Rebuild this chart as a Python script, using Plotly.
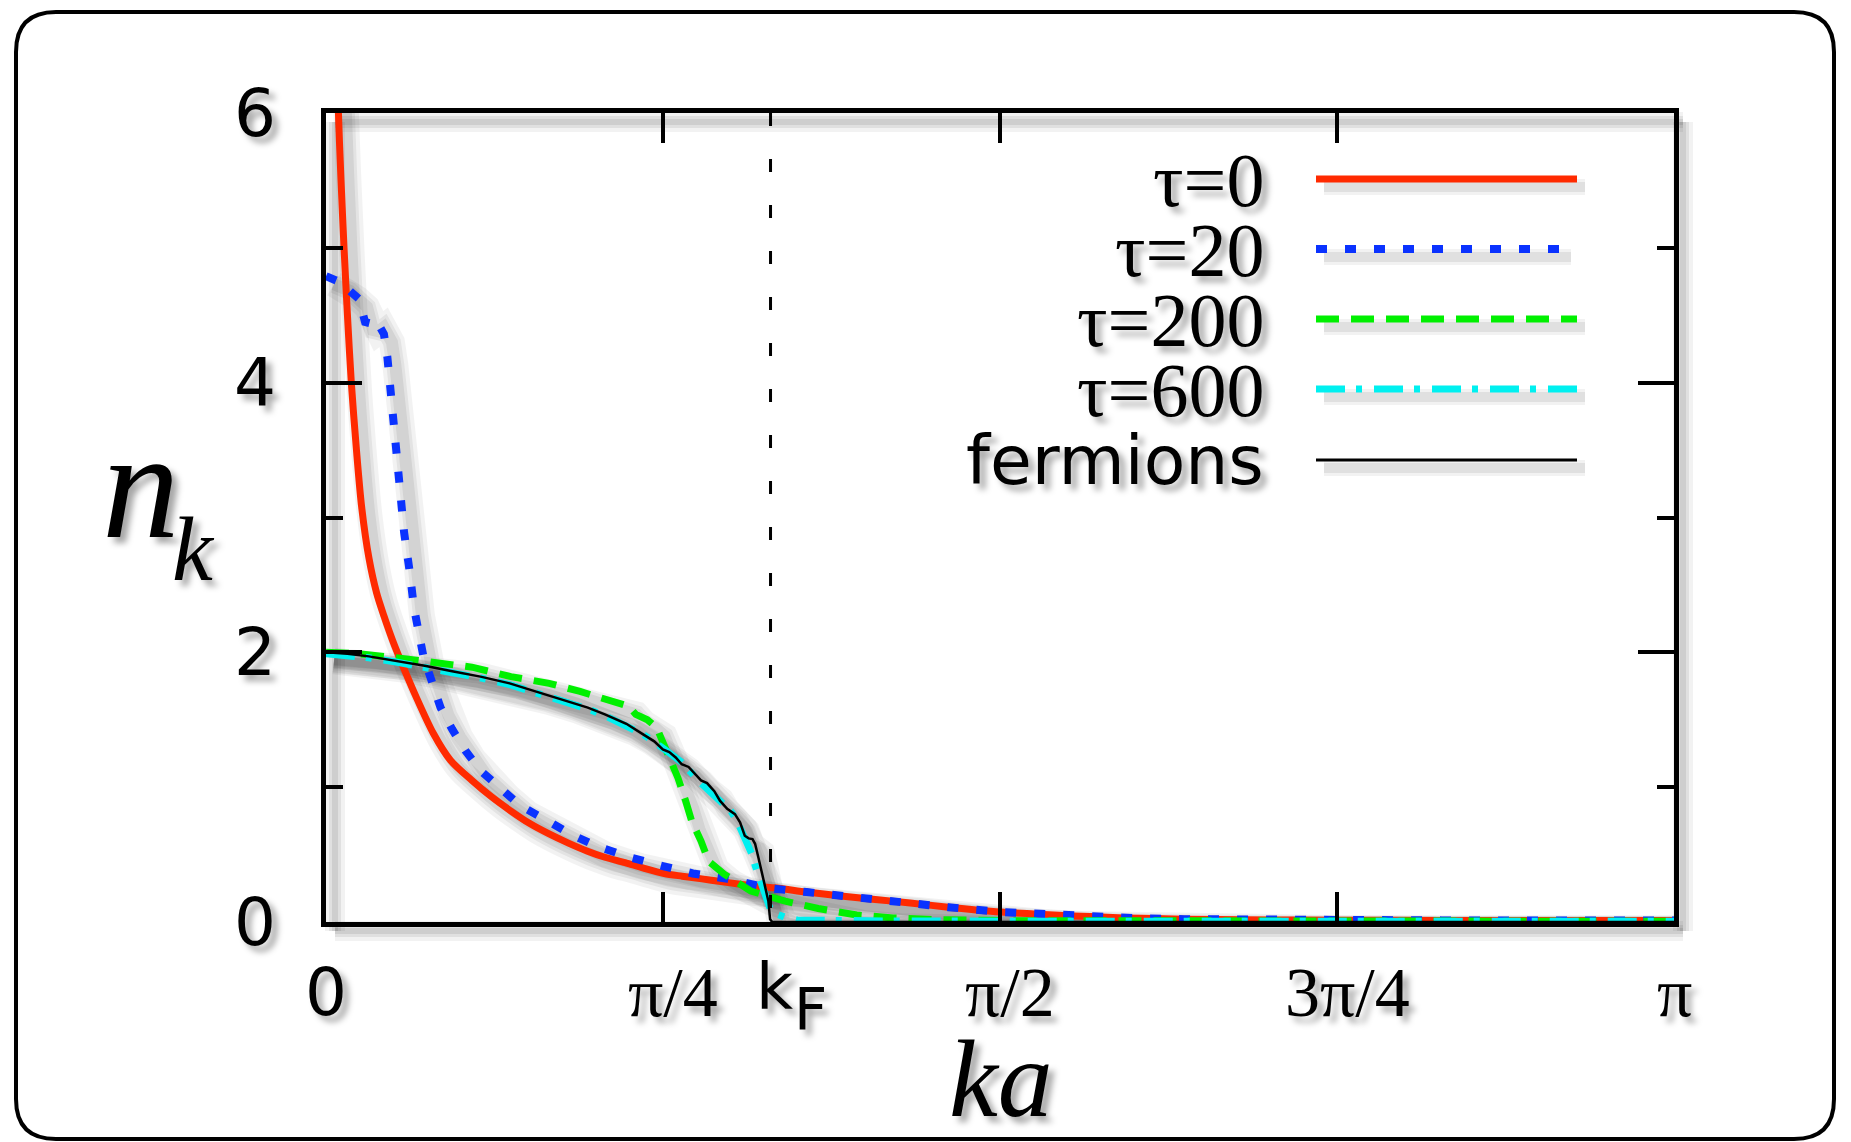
import numpy as np
import plotly.graph_objects as go

PI = np.pi
KF = 1.036  # Fermi wave vector (ka units)

# ---------------- data ----------------
ka_tau0 = [0.022, 0.029, 0.035, 0.042, 0.050, 0.059, 0.071, 0.083, 0.100, 0.118, 0.135, 0.155,
           0.179, 0.21, 0.25, 0.29, 0.34, 0.385, 0.431, 0.475, 0.52, 0.565, 0.608, 0.65,
           0.697, 0.74, 0.788, 0.83, 0.876, 0.92, 0.965, 1.00, 1.044, 1.12, 1.20, 1.28,
           1.356, 1.45, 1.573, 1.65, 1.743, 1.82, 1.899, 2.0, 2.132, 2.356, 2.6, 2.9, 3.1416]
n_tau0 = [7.0, 6.0, 5.5, 5.0, 4.5, 4.0, 3.5, 3.08, 2.70, 2.44, 2.27, 2.09,
          1.90, 1.67, 1.40, 1.20, 1.05, 0.93, 0.823, 0.73, 0.653, 0.585, 0.527, 0.48,
          0.44, 0.40, 0.36, 0.34, 0.32, 0.30, 0.28, 0.265, 0.254, 0.222, 0.193, 0.167,
          0.143, 0.11, 0.074, 0.06, 0.045, 0.035, 0.027, 0.021, 0.016, 0.013, 0.012, 0.011, 0.011]

ka_tau20 = [0.0, 0.009, 0.020, 0.037, 0.056, 0.077, 0.091, 0.104, 0.116, 0.135, 0.143, 0.149,
            0.155, 0.161, 0.165, 0.171, 0.176, 0.182, 0.195, 0.205, 0.227, 0.245, 0.267,
            0.294, 0.325, 0.361, 0.406, 0.454, 0.517, 0.571, 0.633, 0.713, 0.785, 0.855,
            0.936, 1.035, 1.12, 1.20, 1.28, 1.356, 1.45, 1.573, 1.65, 1.743, 1.82, 1.899,
            2.0, 2.132, 2.356, 2.6, 2.9, 3.1416]
n_tau20 = [4.79, 4.78, 4.76, 4.74, 4.68, 4.62, 4.45, 4.44, 4.47, 4.36, 4.19, 3.99,
           3.81, 3.62, 3.44, 3.25, 3.07, 2.89, 2.60, 2.33, 1.97, 1.79, 1.59,
           1.43, 1.27, 1.12, 0.99, 0.86, 0.75, 0.65, 0.56, 0.475, 0.415, 0.36,
           0.32, 0.25, 0.222, 0.193, 0.167, 0.143, 0.11, 0.074, 0.06, 0.045, 0.035, 0.027,
           0.021, 0.016, 0.013, 0.012, 0.011, 0.011]

ka_tau200 = [0.0, 0.075, 0.163, 0.252, 0.340, 0.431, 0.52, 0.592, 0.653, 0.687, 0.705,
             0.722, 0.749, 0.771, 0.794, 0.820, 0.838, 0.852, 0.874, 0.892, 0.928, 0.954,
             0.990, 1.016, 1.042, 1.07, 1.147, 1.237, 1.322, 1.424, 1.6, 2.0, 2.5, 3.1416]
n_tau200 = [2.0, 1.99, 1.96, 1.92, 1.89, 1.82, 1.77, 1.71, 1.65, 1.63, 1.60,
            1.54, 1.50, 1.44, 1.27, 1.07, 0.90, 0.75, 0.60, 0.45, 0.355, 0.30,
            0.23, 0.205, 0.18, 0.155, 0.10, 0.052, 0.03, 0.017, 0.01, 0.007, 0.005, 0.005]

ka_tau600 = [0.0, 0.05, 0.10, 0.16, 0.23, 0.294, 0.36, 0.428, 0.50, 0.562, 0.61, 0.650,
             0.70, 0.740, 0.785, 0.827, 0.874, 0.921, 0.944, 0.958, 0.975, 0.993, 1.0,
             1.015, 1.028, 1.035, 1.05, 1.07, 1.098, 1.15, 1.3, 1.6, 2.0, 2.5, 3.1416]
n_tau600 = [1.99, 1.98, 1.96, 1.93, 1.89, 1.85, 1.81, 1.76, 1.69, 1.63, 1.58, 1.53,
            1.46, 1.39, 1.29, 1.19, 1.03, 0.90, 0.82, 0.75, 0.63, 0.50, 0.42,
            0.28, 0.18, 0.10, 0.06, 0.035, 0.015, 0.01, 0.008, 0.006, 0.005, 0.005, 0.005]

ka_ferm = [0.0, 0.05, 0.10, 0.16, 0.23, 0.294, 0.36, 0.428, 0.50, 0.562, 0.61, 0.650,
           0.70, 0.740, 0.765, 0.785, 0.80, 0.815, 0.829, 0.845, 0.86, 0.874, 0.888,
           0.905, 0.918, 0.935, 0.953, 0.965, 0.976, 0.985, 0.994, 1.000, 1.008, 1.015,
           1.022, 1.031, 1.035, 1.04, 1.5, 2.0, 2.5, 3.1416]
n_ferm = [2.0, 1.99, 1.97, 1.94, 1.90, 1.86, 1.82, 1.77, 1.70, 1.64, 1.59, 1.54,
          1.47, 1.39, 1.34, 1.28, 1.26, 1.22, 1.17, 1.15, 1.10, 1.05, 1.03,
          0.97, 0.90, 0.84, 0.80, 0.74, 0.64, 0.62, 0.615, 0.58, 0.475, 0.38,
          0.28, 0.155, 0.02, 0.0, 0.0, 0.0, 0.0, 0.0]

x_tick_vals = [0, PI / 4, PI / 2, 3 * PI / 4, PI]
x_tick_text = ["0", "π/4", "π/2", "3π/4", "π"]
y_tick_vals = [0, 2, 4, 6]
y_tick_text = ["0", "2", "4", "6"]
legend_labels = ["τ=0", "τ=20", "τ=200", "τ=600", "fermions"]

# ---------------- styling ----------------
W, H = 1851, 1142
L, R, T, B = 326, 1674, 113, 922
SERIF = "Liberation Serif"
SANS = "DejaVu Sans"
TSHADOW = "6px 6px 6px rgba(0,0,0,0.35)"


def X(px):
    return (px - L) / (R - L)


def Y(py):
    return (B - py) / (B - T)


series = [
    (ka_tau0, n_tau0, "#ff2a00", 7, "solid", "spline"),
    (ka_tau20, n_tau20, "#0a32ff", 8, "11px,18px", "linear"),
    (ka_tau200, n_tau200, "#00f000", 7, "23px,12px", "linear"),
    (ka_tau600, n_tau600, "#00f0f0", 7, "29px,11px,6px,12px", "linear"),
    (ka_ferm, n_ferm, "#000000", 2.5, "solid", "linear"),
]

fig = go.Figure()

# soft drop shadows of the curves
dx = 8 / (R - L) * PI
dy = 8 / (B - T) * 6
for xs, ys, col, w, dash, shp in series:
    for sw, op in [(22, 0.05), (14, 0.06), (8, 0.07)]:
        fig.add_trace(go.Scatter(
            x=[v + dx for v in xs], y=[v - dy for v in ys], mode="lines",
            line=dict(color=f"rgba(0,0,0,{op})", width=sw + w * 0.5, shape=shp),
            hoverinfo="skip", showlegend=False))

for (xs, ys, col, w, dash, shp), name in zip(series, legend_labels):
    fig.add_trace(go.Scatter(x=xs, y=ys, mode="lines", name=name,
                             line=dict(color=col, width=w, dash=dash, shape=shp,
                                       smoothing=0.8 if shp == "spline" else None),
                             showlegend=False))

shapes = []
# outer rounded frame
x0, y0, x1, y1, r = X(16), Y(12), X(1834), Y(1139), 40
rx, ry = r / (R - L), r / (B - T)
path = (f"M {x0+rx},{y0} L {x1-rx},{y0} Q {x1},{y0} {x1},{y0-ry} "
        f"L {x1},{y1+ry} Q {x1},{y1} {x1-rx},{y1} L {x0+rx},{y1} "
        f"Q {x0},{y1} {x0},{y1+ry} L {x0},{y0-ry} Q {x0},{y0} {x0+rx},{y0} Z")
shapes.append(dict(type="path", xref="paper", yref="paper", path=path,
                   line=dict(color="black", width=4), layer="below"))

# frame shadow
sh = 9
for sw, op in [(20, 0.05), (12, 0.07), (6, 0.08)]:
    c = f"rgba(0,0,0,{op})"
    shapes.append(dict(type="line", xref="paper", yref="paper", x0=X(L + sh), x1=X(R + sh),
                       y0=Y(T + sh), y1=Y(T + sh), line=dict(color=c, width=sw), layer="below"))
    shapes.append(dict(type="line", xref="paper", yref="paper", x0=X(L + sh), x1=X(L + sh),
                       y0=Y(T + sh), y1=Y(B + sh), line=dict(color=c, width=sw), layer="below"))
    shapes.append(dict(type="line", xref="paper", yref="paper", x0=X(R + sh), x1=X(R + sh),
                       y0=Y(T + sh), y1=Y(B + sh), line=dict(color=c, width=sw), layer="below"))
    shapes.append(dict(type="line", xref="paper", yref="paper", x0=X(L + sh), x1=X(R + sh),
                       y0=Y(B + sh), y1=Y(B + sh), line=dict(color=c, width=sw), layer="below"))

# k_F dashed line
shapes.append(dict(type="line", xref="x", yref="paper", x0=KF, x1=KF, y0=1, y1=0,
                   line=dict(color="black", width=3, dash="13px,33px")))

# legend
leg_y = [179, 249, 319, 389, 460]
leg_end = [1577, 1563, 1577, 1577, 1577]
annotations = []
for i, (xs, ys, col, w, dash, shp) in enumerate(series):
    for sw, op in [(16, 0.05), (10, 0.07)]:
        shapes.append(dict(type="line", xref="paper", yref="paper", x0=X(1316 + 8), x1=X(leg_end[i] + 8),
                           y0=Y(leg_y[i] + 8), y1=Y(leg_y[i] + 8),
                           line=dict(color=f"rgba(0,0,0,{op})", width=sw)))
    shapes.append(dict(type="line", xref="paper", yref="paper", x0=X(1316), x1=X(leg_end[i]),
                       y0=Y(leg_y[i]), y1=Y(leg_y[i]),
                       line=dict(color=col, width=(3 if i == 4 else w), dash=dash)))
    fam, size = (SANS, 68) if i == 4 else (SERIF, 76)
    annotations.append(dict(text=legend_labels[i], xref="paper", yref="paper", x=X(1266),
                            y=Y(leg_y[i] + 1), xanchor="right", yanchor="middle", showarrow=False,
                            font=dict(family=fam, size=size, color="black", shadow=TSHADOW)))

# x tick labels
for v, t in zip(x_tick_vals, x_tick_text):
    fam, size = (SANS, 66) if t == "0" else (SERIF, 70)
    xoff = 0 if t in ("0", "π") else 10
    annotations.append(dict(text=t, xref="x", yref="paper", x=v, y=Y(992), xshift=xoff,
                            xanchor="center", yanchor="middle", showarrow=False,
                            font=dict(family=fam, size=size, color="black", shadow=TSHADOW)))
# k_F label
annotations.append(dict(text="k", xref="x", yref="paper", x=KF, y=Y(987), xshift=4,
                        xanchor="center", yanchor="middle", showarrow=False,
                        font=dict(family=SANS, size=64, color="black", shadow=TSHADOW)))
annotations.append(dict(text="F", xref="x", yref="paper", x=KF, y=Y(1010), xshift=40,
                        xanchor="center", yanchor="middle", showarrow=False,
                        font=dict(family=SANS, size=58, color="black", shadow=TSHADOW)))
# y tick labels
for v, t in zip(y_tick_vals, y_tick_text):
    annotations.append(dict(text=t, xref="paper", yref="y", x=X(278), y=v,
                            xanchor="right", yanchor="middle", showarrow=False,
                            font=dict(family=SANS, size=66, color="black", shadow=TSHADOW)))
# axis titles
annotations.append(dict(text="<i>n</i>", xref="paper", yref="paper", x=X(141), y=Y(485),
                        xanchor="center", yanchor="middle", showarrow=False,
                        font=dict(family=SERIF, size=155, color="black", shadow=TSHADOW)))
annotations.append(dict(text="<i>k</i>", xref="paper", yref="paper", x=X(193), y=Y(549),
                        xanchor="center", yanchor="middle", showarrow=False,
                        font=dict(family=SERIF, size=92, color="black", shadow=TSHADOW)))
annotations.append(dict(text="<i>ka</i>", xref="paper", yref="paper", x=X(1001), y=Y(1079),
                        xanchor="center", yanchor="middle", showarrow=False,
                        font=dict(family=SERIF, size=110, color="black", shadow=TSHADOW)))

axis_common = dict(showline=True, linecolor="black", linewidth=5, mirror="allticks",
                   ticks="inside", tickcolor="black", tickwidth=4, showgrid=False,
                   zeroline=False, showticklabels=False, fixedrange=True)

fig.update_layout(
    width=W, height=H,
    margin=dict(l=L, r=W - R, t=T, b=H - B, autoexpand=False),
    paper_bgcolor="white", plot_bgcolor="white",
    showlegend=False,
    xaxis=dict(range=[0, PI], tickmode="array", tickvals=x_tick_vals, ticklen=30, **axis_common),
    yaxis=dict(range=[0, 6], tickmode="array", tickvals=y_tick_vals, ticklen=36,
               minor=dict(tickmode="linear", tick0=0, dtick=1, ticklen=17, tickwidth=4,
                          tickcolor="black", ticks="inside", showgrid=False),
               **axis_common),
    shapes=shapes,
    annotations=annotations,
)

fig.write_html("out.html")
